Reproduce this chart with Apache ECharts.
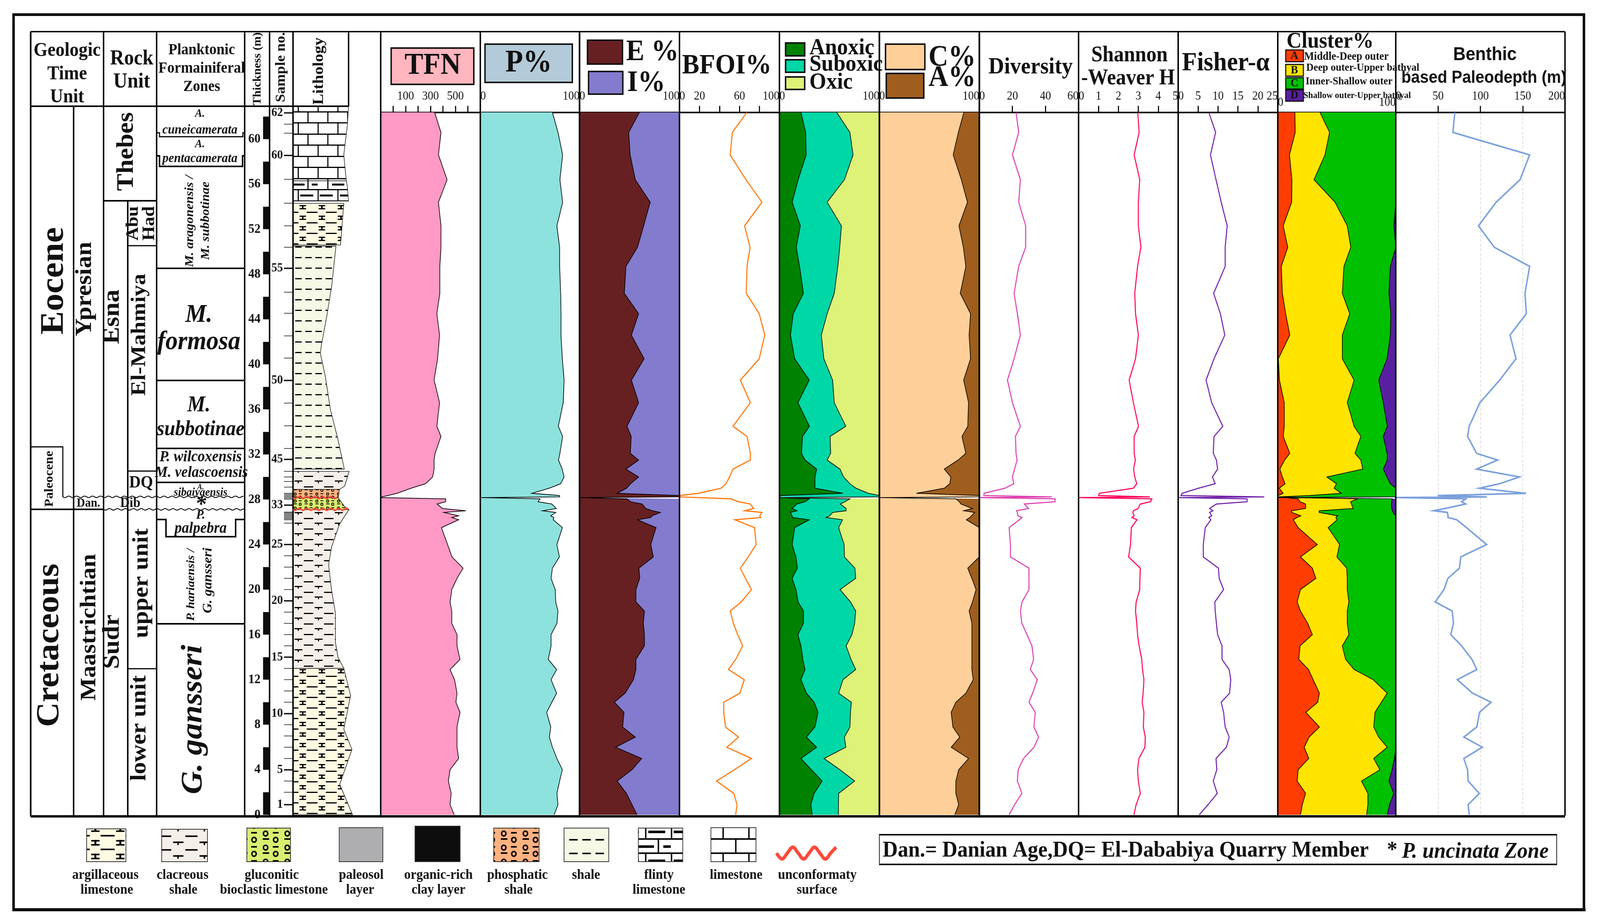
<!DOCTYPE html>
<html><head><meta charset="utf-8">
<style>html,body{margin:0;padding:0;background:#fff;overflow:hidden}#c{width:4434px;height:2363px;transform-origin:0 0}</style>
<script src="https://cdn.jsdelivr.net/npm/echarts@6/dist/echarts.min.js"></script>
</head><body><div id="c"></div>
<script>
// ---------- DATA ----------
const depths=[62.37,60.6,58.6,56.4,54.4,52.3,50.4,48.7,46.3,44.5,42.6,40.5,38.6,36.6,34.5,33.6,32.1,31.5,30.7,30.0,29.4,29.0,28.55,28.35,28.23,28.17,28.06,27.8,27.6,27.2,27.0,26.85,26.55,26.4,26.2,25.5,24.0,22.9,21.9,21.0,20.0,18.9,18.1,17.0,16.0,15.0,13.8,12.9,12.0,10.8,10.0,9.1,7.8,6.9,6.0,5.0,4.0,3.0,1.9,0.9,0];
const tfn=[333,384,364,433,364,384,384,375,375,351,373,357,329,373,351,384,337,329,329,317,260,144,33,-44,-89,-95,422,422,353,395,584,408,526,471,526,388,437,473,562,513,471,457,471,471,513,513,537,457,493,513,504,537,513,513,513,526,457,444,466,457,491];
const planktonic=[72.7,78.3,83,80.2,83,77.2,79.9,79.9,81,81.3,81.3,82.7,84.4,83.6,78.6,83,80.2,78.8,82.5,84.4,81,69.4,52.1,79.9,79.9,0,60.2,58.2,72.1,76.6,62.7,76,71,74.1,73.5,82.7,77.2,79.7,72.7,71.3,75.5,76,78.3,77.2,71.3,71.3,68.5,76.9,71.3,76.9,72.1,66.9,71,69.6,72.7,77.2,82.7,79.9,77.2,78.3,74.4];
const epifaunal=[59.9,49.2,50.6,55.8,70.7,64.1,58,46.4,44.8,59.1,51.9,64.6,51.9,59.1,47.5,51.7,50.8,59.1,46.4,59.1,51.1,47,37.6,100,100,0,47.5,51.1,62.7,66.3,73.2,80.9,72.4,71.3,58,76.5,71.3,73.8,59.4,60.2,56.4,56.4,64.9,63.8,64.9,64.9,56.4,56.4,53.9,45.6,34.8,44.5,43.1,55.8,36.2,62.2,52.5,37.6,47,52.5,57.5];
const bfoi=[67.3,52.9,50.7,66.5,82.5,65.1,70.6,67.6,66.8,79.8,85.3,79.8,60.9,70.9,53.5,67.6,70.9,70.9,53.5,50.1,46.5,41.6,18.8,0,0,0,51.5,59,70.9,74.2,65.4,82.5,80.3,81.2,55.4,75.1,76.7,68.7,60.9,65.9,72,61.8,50.7,54,58.2,63.2,56.2,49,64.8,60.4,44.3,44.3,46,59,47.4,72,54.8,37.1,54.3,57.6,56.2];
const anoxic=[21.5,26.2,26.7,18.7,12.7,20.9,16.8,20.1,24,13.8,11,15.2,29.8,18.5,30,23.1,22,25.6,37.2,35.5,35.5,35.5,63.4,0.8,0.8,0,29.8,25.9,17.4,12.7,17.6,11,12.7,13.2,29.8,15.2,12.7,16.5,17.9,12.7,16.5,18.7,24,24,18.5,21.5,23.4,25.6,21.5,27,34.7,38.6,35.5,27,37.2,21.5,32,42.7,34.7,31.4,32.8];
const anoxicSuboxic=[57.3,70.5,73.6,65,47.7,62,60.3,58.4,54.8,47.7,41.9,44.4,53.2,54.8,66.4,50.7,51.2,47.7,60.6,64.2,70.5,76.6,89,100,100,0,70.5,65.6,60.9,66.7,66.7,53.2,50.4,46.6,63.1,59.2,64.7,65,75.5,76.3,60.6,71.1,76.3,75.2,72.5,66.7,71.6,76.3,63.6,59.2,71.9,71.1,70.5,65,66.4,44.6,60.6,75.2,59.2,59,59];
const calcareous=[84.5,79,73.8,82,88.1,79.6,84,86.5,80.9,91.2,89.8,91.2,84.3,89.2,88.4,82.6,86.5,78.7,64.9,71.5,70.4,64.9,37,100,100,0,76.5,80,81.5,93.1,84.3,95.3,92,90.6,87,100,100,100,88.4,92.5,96.7,93.1,89.8,92.5,92.5,92.5,92.5,92.5,93.9,86.5,76.5,71.8,73.5,80.4,71.8,89.2,79.3,76.5,76.5,79.3,75.4];
const diversity=[22.2,23.8,20,24.8,23.8,28,28,23.8,21,23,24.8,21,17,20,24.8,21.8,22.2,22.8,21.3,20,20.8,15.5,2.8,2.8,43.8,0,45.8,45.8,27.2,29.7,22.5,23,23.3,25.8,24.2,18,18.8,18.8,30,30,30,25.8,24.8,25.7,28.8,31.8,32.8,30.8,35,32.2,30,33.8,33,35.8,33,26.7,23.5,23,25.7,21.3,18];
const shannon=[2.97,3.04,2.79,3.07,3.00,3.00,3.13,2.96,2.82,2.86,3.00,2.86,2.54,2.75,3.01,2.79,2.79,2.85,2.76,2.82,2.92,2.75,1.04,1.01,3.58,0,3.68,3.60,3.10,2.99,2.75,2.72,2.79,2.68,2.93,2.65,2.61,2.51,3.10,3.08,3.07,2.89,2.86,2.92,2.96,3.04,3.17,3.21,3.28,3.24,3.19,3.28,3.25,3.35,3.33,3.03,2.96,3.00,3.10,2.89,2.78];
const fisher=[7.7,9.4,8.1,9.5,10.8,12.3,11.8,11.8,8.9,10.6,11.7,9,7,8.4,11.2,9,8.8,9.6,9.9,8.6,9.3,5.1,1,0.7,21.6,0.1,17.3,17.3,9.6,7.9,8.7,7.9,8.4,7.7,8.2,6.8,6.3,6.3,10.1,10.3,11.4,9.2,9.3,9.6,9.9,11,11,12.8,13.2,12.9,10.8,11.4,11.8,12.8,12.1,9.5,9.7,8.8,9.8,7.5,5.3];
const clusterA=[14.5,14.8,9.9,12,11.8,4.6,8.5,3,3.9,6.7,10.2,0.5,1.4,5.5,5.5,4.6,10.2,5.8,1.8,3.9,6.2,1.2,4.6,0.5,0,0,17.3,18.9,23.6,23.6,11.8,11.8,19.6,16.2,13.2,17.3,33.5,19.2,29.3,32.3,19.2,16.4,19.2,25.4,29.3,18.9,17.8,26.1,30,35.3,33.9,23.8,35.3,26.6,22.4,26.3,17.3,16.4,23.6,20.8,19.2];
const clusterAB=[35.8,43.9,40,30.7,48.5,58.9,61.9,56.1,54.7,61,54.7,54.7,64.7,58.9,64.7,70.4,65.4,70.4,72.1,41.6,49.7,47.8,53.8,26.6,0,0,67.7,61.7,62.4,64,35.1,35.1,50.8,49.2,50.3,42.7,52.4,50.1,58.4,58.9,58.9,60.3,58.9,58.9,60.3,54.7,57.5,64.7,80.8,92.8,87.8,82.4,81.3,85.5,92.8,81.3,86.6,70.9,76.4,76.4,75.3];
const clusterABC=[100,100,100,100,100,98.4,100,95.4,94.2,95.8,95.4,92.6,85.5,89.4,92.8,89.4,92.6,92.8,89.4,92.4,95.4,100,100,100,100,0,97,96.5,96.3,96.5,97.2,97.7,100,100,100,100,100,100,100,100,100,100,100,100,100,100,100,100,100,100,100,100,100,100,100,98.8,96.8,94.2,98.2,94.7,92.8];
const paleodepth=[69.8,67.5,158.2,146.9,118.6,97.7,116.4,158.2,152.7,154.3,135,142.1,122.8,99.4,86.8,84.9,95.5,120.3,95.5,146,122.8,98.7,154,49.5,107.4,0,82.6,77.8,82.6,58.5,45,61.1,61.7,61.7,72,83.6,107.4,76.8,75.2,61.7,56.9,46.6,66.6,68.2,65,77.8,90,95.8,72.7,90.7,112.5,99,95.8,80.4,102.3,80.4,84.9,85.5,98.7,85.5,86.8];
const lithoDepths=[62.92,61.2,59.9,58.6,57,56.3,55.8,54.5,54.3,50.6,50.5,46.9,44.2,41.8,41,38.9,36,33.3,30.7,30.5,29.2,28.9,28.15,27.4,27.1,25.8,23.8,22.2,19.9,17.9,15.3,14,13,10.6,7.6,5.8,2.7,0];
const lithoWidths=[100,97.7,94.5,91.4,94.5,96,97.7,100,91.4,85.5,77.3,69.5,60.5,51.4,49.1,58.2,67.3,81,92.3,101,93,83.6,81.4,92.3,100.5,83.6,69.5,64,69.5,76.4,76.4,80.9,91.4,103.6,91.4,106,84.1,107];
const lithoTops=[62.92,56.3,54.3,50.5,30.5,28.9,28.15,27.1,13];
const lithoBases=[56.3,54.5,50.6,30.7,28.9,28.15,27.1,13,0];
const lithoTypes=['limestone','flinty','argillaceous','shale','clacreous','phosphatic','glauconitic','clacreous','argillaceous'];
const thicknessBlackFrom=[0,4,8,12,16,20,24,28,32,36,40,44,48,52,56,60];
const sampleTickDepths=[62.33,61.33,60.53,58.55,56.43,54.31,52.3,50.4,48.53,46.41,44.54,42.53,40.56,38.57,36.56,34.54,32.53,31.56,30.5,30.0,29.6,29.1,28.55,28.45,28.34,28.24,28.13,28.03,26.88,26.8,26.7,26.6,26.5,26.4,26.3,26.2,25.9,27.5,24,23.0,22.0,21.0,20.0,19.0,18.0,17.0,16.0,15.0,14,13,12,11,10,9,8,7,6,5,4,3,2,0.9];
const sampleLabels=['62','60','55','50','45','33','25','20','15','10','5','1'];
const sampleLabelDepths=[62.33,58.55,48.53,38.57,31.56,27.5,24,19,14,8.98,3.99,0.9];

// ---------- LAYOUT ----------
// The window may be narrower than the reference: squeeze horizontally so the whole figure still fills it.
document.getElementById('c').style.transform='scaleX('+(Math.min(1,window.innerWidth/4434))+')';
const SERIF='"Liberation Serif"', SANS='"Liberation Sans"';
const TOP=288,BOT=2086,YMAX=(BOT-TOP)/28.83,LTOP=272,LMAX=(BOT-LTOP)/28.83;
const edges=[1055,1331,1606,1883,2160,2437,2714,2989,3265,3541,3868,4337];
const axes=[
 {min:-100,max:700,interval:100,ticks:true,labels:[100,300,500]},
 {min:0,max:100,interval:100,ticks:false,labels:[0,100]},
 {min:0,max:100,interval:100,ticks:false,labels:[0,100]},
 {min:0,max:100,interval:20,ticks:true,labels:[0,20,60,100]},
 {min:0,max:100,interval:100,ticks:false,labels:[0,100]},
 {min:0,max:100,interval:100,ticks:false,labels:[0,100]},
 {min:0,max:60,interval:20,ticks:true,labels:[0,20,40,60]},
 {min:0,max:5,interval:1,ticks:true,labels:[0,1,2,3,4,5]},
 {min:0,max:25,interval:5,ticks:true,labels:[0,5,10,15,20,25]},
 {min:0,max:100,interval:100,ticks:false,labels:[0,100],margin:10},
 {min:0,max:200,interval:50,ticks:true,labels:[0,50,100,150,200],split:true}
];
const grid=[],xAxis=[],yAxis=[],series=[];
axes.forEach((a,i)=>{
  grid.push({left:edges[i],width:edges[i+1]-edges[i],top:TOP,height:BOT-TOP,containLabel:false});
  xAxis.push({gridIndex:i,type:'value',position:'top',min:a.min,max:a.max,interval:a.interval,
    axisLine:{show:true,onZero:false,lineStyle:{color:'#000',width:4}},
    axisTick:{show:a.ticks,length:17,lineStyle:{color:'#000',width:3}},
    axisLabel:{show:true,margin:a.margin||26,fontFamily:SERIF,fontSize:31,color:'#111',alignMinLabel:'left',alignMaxLabel:'right',
      formatter:v=>a.labels.includes(v)?String(v):''},
    splitLine:{show:!!a.split,lineStyle:{color:'#dcdcdc',type:'dashed',width:2}}});
  yAxis.push({gridIndex:i,type:'value',min:0,max:YMAX,show:false,splitLine:{show:false}});
});
function band(g,lower,upper,color,from,to){
  const idx=[];for(let i=from;i<=to;i++)idx.push(i);
  series.push({type:'custom',xAxisIndex:g,yAxisIndex:g,silent:true,animation:false,z:2,encode:{x:0,y:1},
    data:idx.map(i=>[upper[i],depths[i]]),
    renderItem:(p,api)=>{
      if(p.dataIndex!==0)return null;
      const pts=idx.map(i=>api.coord([upper[i],depths[i]]));
      idx.slice().reverse().forEach(i=>pts.push(api.coord([lower[i],depths[i]])));
      return {type:'polygon',shape:{points:pts},style:{fill:color,stroke:null}};
    }});
}
function line(g,vals,color,width){
  series.push({type:'line',xAxisIndex:g,yAxisIndex:g,silent:true,animation:false,z:3,showSymbol:false,symbol:'none',clip:false,
    lineStyle:{color,width,join:'miter'},data:vals.map((v,i)=>[v,depths[i]])});
}
function stacked(g,bounds,colors,base,top){
  const lo=depths.map(()=>base);
  const hi=depths.map((d,i)=>i===25?base:top);
  const all=[lo,...bounds,hi];
  colors.forEach((c,k)=>{
    if(k===0){band(g,all[0],all[1],c,0,60);}
    else{band(g,all[k],all[k+1],c,0,24);band(g,all[k],all[k+1],c,25,60);}
  });
  bounds.forEach(b=>line(g,b,'#000',1.8));
}
stacked(0,[tfn],['#FF99C5'],-100,700);
stacked(1,[planktonic],['#8DE2DE'],0,100);
stacked(2,[epifaunal],['#672021','#837BCD'],0,100);
line(3,bfoi,'#FF7A10',3);
stacked(4,[anoxic,anoxicSuboxic],['#008200','#00D7A6','#DDF277'],0,100);
stacked(5,[calcareous],['#FFCF99','#9F5E1E'],0,100);
line(6,diversity,'#DD3FB0',2.8);
line(7,shannon,'#FF0058',2.8);
line(8,fisher,'#7020A8',2.8);
stacked(9,[clusterA,clusterAB,clusterABC],['#FF3D00','#FFE400','#00C000','#5820A0'],0,100);
line(10,paleodepth,'#7AA0DC',4);

// patterns (k scales the motif: the legend swatches use a larger one)
function pat(w,h,k,bg,draw){const c=document.createElement('canvas');c.width=Math.round(w*k);c.height=Math.round(h*k);const x=c.getContext('2d');x.fillStyle=bg;x.fillRect(0,0,c.width,c.height);x.scale(c.width/w,c.height/h);x.fillStyle='#000';x.strokeStyle='#000';draw(x);return {image:c,repeat:'repeat'};}
const brick=x=>{x.fillRect(0,0,110,3);x.fillRect(0,28,110,3);x.fillRect(27,0,3,28);x.fillRect(82,0,3,28);x.fillRect(0,28,3,29);x.fillRect(55,28,3,29);};
const beads=x=>{x.lineWidth=2;x.beginPath();x.arc(8,5,3,0,7);x.stroke();x.fillRect(4,11,9,2);x.fillRect(18,3,8,2);x.beginPath();x.arc(22,13,3,0,7);x.stroke();};
function makePatterns(k,b){return {
 limestone:pat(110,57,k,'#fff',brick),
 flinty:pat(110,57,k,'#fff',x=>{brick(x);x.fillRect(6,42,36,5);x.fillRect(62,42,36,5);x.fillRect(40,14,34,5);x.fillRect(94,14,16,5);}),
 argillaceous:pat(53,27,k,'#FFFBE3',x=>{x.fillRect(2,2,30,3);x.fillRect(35,12,18,3);x.fillRect(35,20,18,3);x.fillRect(42,12,4,10);}),
 shale:pat(56,27,k,'#F5F9E6',x=>{x.fillRect(6,10,18,3);x.fillRect(34,10,18,3);}),
 clacreous:pat(56,27,k,'#F4EFE8',x=>{x.fillRect(2,3,26,3);x.fillRect(32,15,22,3);x.fillRect(41,15,3,7);}),
 phosphatic:pat(30,18,b,'#FFB280',beads),
 glauconitic:pat(30,18,b,'#D8EE70',beads)
};}
const patterns=makePatterns(1,1), legendPatterns=makePatterns(1.3,2);
// lithology column
let g=grid.length;
grid.push({left:812,width:169.4,top:LTOP,height:BOT-LTOP});
xAxis.push({gridIndex:g,type:'value',min:0,max:110,show:false});
yAxis.push({gridIndex:g,type:'value',min:0,max:LMAX,show:false});
series.push({type:'custom',xAxisIndex:g,yAxisIndex:g,silent:true,animation:false,z:2,encode:{x:0,y:1},
  data:lithoTops.map((t,i)=>[0,t,lithoBases[i]]),
  renderItem:(p,api)=>{
    const i=p.dataIndex,t=lithoTops[i],b=lithoBases[i];
    const pts=[api.coord([0,t])];
    lithoDepths.forEach((d,k)=>{if(d<=t&&d>=b)pts.push(api.coord([lithoWidths[k],d]));});
    pts.push(api.coord([0,b]));
    return {type:'polygon',shape:{points:pts},style:{fill:patterns[lithoTypes[i]],stroke:'#222',lineWidth:1.6}};
  }});
// thickness bar + axis
g=grid.length;
grid.push({left:729,width:18,top:LTOP,height:BOT-LTOP});
xAxis.push({gridIndex:g,type:'value',min:0,max:1,show:false});
yAxis.push({gridIndex:g,type:'value',position:'left',min:0,max:LMAX,interval:4,
  axisLine:{show:false},axisTick:{show:false},splitLine:{show:false},
  axisLabel:{show:true,showMaxLabel:false,margin:7,padding:[0,0,12,0],fontFamily:SERIF,fontWeight:'bold',fontSize:34,color:'#111'}});
series.push({type:'custom',xAxisIndex:g,yAxisIndex:g,silent:true,animation:false,z:2,encode:{x:0,y:1},
  data:thicknessBlackFrom.map(v=>[0,v]),
  renderItem:(p,api)=>{
    const v=thicknessBlackFrom[p.dataIndex],a=api.coord([0,v+2]),b=api.coord([1,v]);
    return {type:'rect',shape:{x:a[0],y:a[1],width:b[0]-a[0],height:b[1]-a[1]},style:{fill:'#0d0d0d'}};
  }});
// sample numbers
g=grid.length;
grid.push({left:787,width:25,top:LTOP,height:BOT-LTOP});
xAxis.push({gridIndex:g,type:'value',min:0,max:1,show:false});
yAxis.push({gridIndex:g,type:'value',min:0,max:LMAX,show:false});
series.push({type:'custom',xAxisIndex:g,yAxisIndex:g,silent:true,animation:false,z:2,encode:{x:0,y:1},
  data:sampleTickDepths.map(v=>[0,v]),
  renderItem:(p,api)=>{
    const v=sampleTickDepths[p.dataIndex],a=api.coord([0,v]),b=api.coord([1,v]);
    return {type:'line',shape:{x1:a[0],y1:a[1],x2:b[0],y2:b[1]},style:{stroke:'#111',lineWidth:1.5}};
  }});
series.push({type:'custom',xAxisIndex:g,yAxisIndex:g,silent:true,animation:false,z:2,encode:{x:0,y:1},
  data:sampleLabelDepths.map(v=>[0,v]),
  renderItem:(p,api)=>{
    const v=sampleLabelDepths[p.dataIndex],a=api.coord([0,v]),b=api.coord([1,v]);
    return {type:'group',children:[
      {type:'line',shape:{x1:a[0],y1:a[1],x2:b[0],y2:b[1]},style:{stroke:'#111',lineWidth:3.5}},
      {type:'text',style:{text:sampleLabels[p.dataIndex],x:a[0]-3,y:a[1],textAlign:'right',textVerticalAlign:'middle',font:'bold 32px '+SERIF,fill:'#111'}}
    ]};
  }});

// ---------- TABLE, TEXT ----------
const gfx=[];
function L(x1,y1,x2,y2,w,c){gfx.push({type:'line',silent:true,z:50,shape:{x1,y1,x2,y2},style:{stroke:c||'#000',lineWidth:w||4}});}
function P(pts,w,c){gfx.push({type:'polyline',silent:true,z:50,shape:{points:pts},style:{stroke:c||'#000',lineWidth:w||4,fill:null}});}
function W(x1,x2,y,w,c,amp,len){const pts=[];for(let x=x1;x<=x2;x+=len/4){pts.push([x,y+amp*[0,1,0,-1][Math.round((x-x1)/(len/4))%4]]);}
  gfx.push({type:'polyline',silent:true,z:51,shape:{points:pts,smooth:0.4},style:{stroke:c||'#000',lineWidth:w||2,fill:null}});}
function T(text,x,y,size,o){o=o||{};gfx.push({type:'text',silent:true,z:60,x,y,rotation:o.rot?Math.PI/2:0,
  style:{text,x:0,y:0,textAlign:o.align||'center',textVerticalAlign:'middle',
    font:(o.italic?'italic ':'')+(o.normal?'':'bold ')+size+'px '+(o.font||SERIF),fill:o.color||'#111'}});}
function R(x,y,w,h,fill,sw,c){gfx.push({type:'rect',silent:true,z:40,shape:{x,y,width:w,height:h},style:{fill,stroke:sw?(c||'#111'):null,lineWidth:sw||0}});}

// outer frame
R(37.5,37.5,4352,2292,null,7,'#0d0d0d');L(34,2329,4394,2329,8,'#0d0d0d');
// main table
L(85,81,4337,81,3.5);L(85,2090,4337,2090,6);L(85,272,966,272,4);
[85,287,434,678,747,812,966].forEach(x=>L(x,81,x,x===966?272:2090,x===85?4.5:4));
L(204,272,204,2090);L(354,514,354,2090);
edges.forEach((x,i)=>L(x,81,x,2088,(i===2||i===5||i===6)?4.5:4));
// rock unit
L(287,514,434,514);L(354,629,434,629,3);L(354,1206,434,1206,3);L(354,1712,434,1712,3);
// zone lines
L(434,687,678,687);L(434,974,678,974);L(434,1148,678,1148);L(434,1235,678,1235);L(434,1597,678,1597);
P([[434,340],[442,340],[442,350],[673,350],[673,340],[678,340]],3);
P([[434,399],[442,399],[442,426],[672,426],[672,399],[678,399]],4);
P([[434,1330],[460,1330],[460,1374],[653,1374],[653,1330],[678,1330]],4);
// paleocene
P([[85,1144],[174,1144],[174,1272]],3);
L(85,1304,287,1304,4);
W(174,678,1272,2.2,'#000',2,22);W(287,678,1304,2.2,'#000',2,22);
// litho unconformities
W(812,938,1274,4,'#FF4A3A',2.5,22);W(812,968,1304,4,'#FF4A3A',2.5,22);

// headers left
T('Geologic',186,130,50);T('Time',186,190,50);T('Unit',186,249,50);
T('Rock',365,151,54);T('Unit',365,210,54);
T('Planktonic',559,129,40);T('Formainiferal',559,176,40);T('Zones',559,223,40);
T('Thickness (m)',714,176,31,{rot:1});T('Sample no.',779,172,38,{rot:1});T('Lithology',884,182,42,{rot:1});
// units
T('Eocene',151,719,90,{rot:1});T('Ypresian',235,740,64,{rot:1});T('Esna',312,811,66,{rot:1});
T('Thebes',351,388,66,{rot:1});T('Abu',370,572,48,{rot:1});T('Had',415,572,48,{rot:1});T('El-Mahmiya',387,857,58,{rot:1});
T('Paleocene',137,1226,34,{rot:1});T('Dan.',245,1289,32);T('Dib',361,1289,36);T('DQ',391,1237,44);
T('Cretaceous',138,1652,88,{rot:1});T('Maastrichtian',248,1606,62,{rot:1});T('Sudr',312,1643,66,{rot:1});
T('upper unit',393,1493,62,{rot:1});T('lower unit',387,1864,62,{rot:1});
// zones
const I={italic:1};
T('A.',554,291,30,I);T('cuneicamerata',554,333,34,I);T('A.',554,369,30,I);T('pentacamerata',554,406,34,I);
T('M. aragonensis /',526,566,34,{italic:1,rot:1});T('M. subbotinae',570,565,34,{italic:1,rot:1});
T('M.',551,807,66,I);T('formosa',551,876,68,I);T('M.',551,1039,56,I);T('subbotinae',556,1100,54,I);
T('P. wilcoxensis',556,1171,40,I);T('M. velascoensis',558,1211,40,I);
T('A.',556,1248,20,I);T('sibaiyaensis',556,1261,30,I);T('*',556,1293,60,I);T('P.',556,1319,34,I);T('palpebra',556,1354,40,I);
T('P. hariaensis /',530,1497,32,{italic:1,rot:1});T('G. gansseri',577,1486,36,{italic:1,rot:1});
T('G. gansseri',537,1842,82,{italic:1,rot:1});
// track headers
R(1084,123,229,93,'#FFB6BE',4);T('TFN',1199,169,78);
R(1344,113,242,98,'#B3CBD8',4);T('P%',1465,162,80);
R(1628,103,97,61,'#672021',4);T('E %',1735,134,76,{align:'left'});
R(1631,183,95,58,'#837BCD',4);T('I%',1738,213,76,{align:'left'});
T('BFOI%',2014,169,72);
R(2177,110,53,33,'#008200',4);R(2177,153,53,32,'#00D7A6',4);R(2177,197,53,32,'#DDF277',4);
T('Anoxic',2243,123,60,{align:'left'});T('Suboxic',2243,165,60,{align:'left'});T('Oxic',2243,211,60,{align:'left'});
R(2454,113,109,65,'#FFCF99',4);R(2456,188,104,63,'#9F5E1E',4);
T('C%',2573,148,76,{align:'left'});T('A%',2573,200,76,{align:'left'});
T('Diversity',2856,172,60);T('Shannon',3130,143,56);T('-Weaver H',3126,202,56);
T('Fisher-α',3397,162,68);
T('Cluster%',3686,107,58);
[['A','#FF3D00',128,30],['B','#FFE400',165,30],['C','#00C000',199,29],['D','#5820A0',230,29]].forEach(s=>{R(3563,s[2],49,s[3],s[1],3);T(s[0],3587,s[2]+s[3]/2,30);});
T('Middle-Deep outer',3614,146,29,{align:'left'});T('Deep outer-Upper bathyal',3620,174,28,{align:'left'});
T('Inner-Shallow outer',3618,209,28,{align:'left'});T('Shallow outer-Upper bathyal',3612,245,24,{align:'left'});
T('Benthic',4115,141,48,{font:SANS});T('based Paleodepth (m)',4112,200,44,{font:SANS});
// legend
[[240,109,2122,legendPatterns.argillaceous],[448,127,2123,legendPatterns.clacreous],[684,121,2120,legendPatterns.glauconitic],[940,121,2119,'#AEAEB0'],[1150,125,2115,'#0D0D0D'],[1368,126,2120,legendPatterns.phosphatic],[1563,124,2120,legendPatterns.shale],[1769,123,2120,legendPatterns.flinty],[1970,125,2119,legendPatterns.limestone]].forEach(s=>R(s[0],s[2],s[1],2206-s[2],s[3],2,'#333'));
W(2152,2330,2184,9,'#FF4A3A',15,60);
[['argillaceous',292,2241],['limestone',296,2279],['clacreous',506,2241],['shale',508,2279],['gluconitic',753,2241],['bioclastic limestone',759,2279],['paleosol',1001,2241],['layer',998,2279],['organic-rich',1215,2241],['clay layer',1215,2279],['phosphatic',1434,2241],['shale',1437,2279],['shale',1624,2241],['flinty',1826,2241],['limestone',1826,2279],['limestone',2040,2241],['unconformaty',2265,2241],['surface',2264,2279]].forEach(s=>T(s[0],s[1],s[2],36));
// note box
gfx.push({type:'rect',silent:true,z:40,shape:{x:2437,y:2136,width:1877,height:78},style:{fill:null,stroke:'#111',lineWidth:2}});
L(2437,2137,4314,2137,4,'#111');L(2437,2213,4314,2213,4,'#111');
T('Dan.= Danian Age,DQ= El-Dababiya Quarry Member',2446,2178,58,{align:'left'});
T('*',3858,2178,58);T('P. uncinata Zone',3885,2181,58,{align:'left',italic:1});

const chart=echarts.init(document.getElementById('c'),null,{renderer:'canvas',width:4434,height:2363});
chart.setOption({animation:false,backgroundColor:'#fff',tooltip:{show:false},legend:{show:false},grid,xAxis,yAxis,series,graphic:{elements:gfx}});
</script></body></html>
